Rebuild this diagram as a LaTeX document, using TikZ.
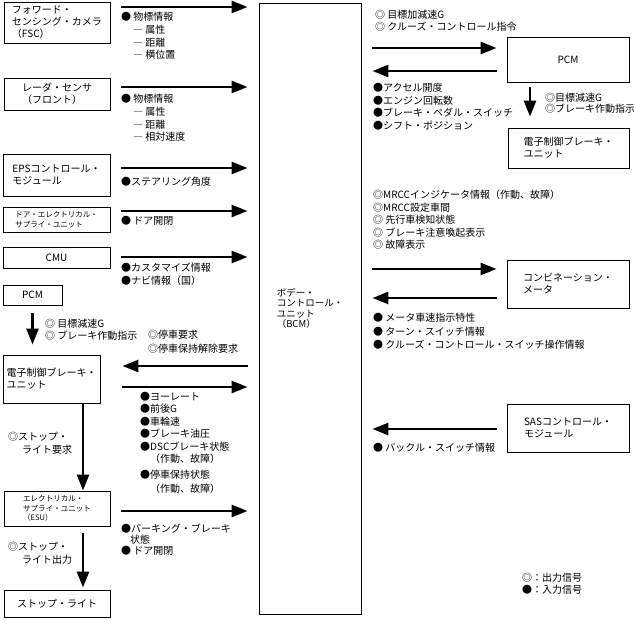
\documentclass[tikz,border=0pt]{standalone}
\usepackage{fontspec}
\setmainfont{Noto Sans CJK JP}
\usetikzlibrary{arrows.meta}
\begin{document}
\begin{tikzpicture}[x=1pt, y=-1pt]

      \tikzset{box/.style={draw, line width=0.9pt, inner sep=0pt, align=left, font=\fontsize{10}{12}\selectfont},
               smallbox/.style={box, font=\fontsize{7.5}{10}\selectfont},
               sig/.style={line width=2.6pt, -{Triangle[length=16pt, width=12pt]}, shorten <=11pt, shorten >=11pt},
               lbl/.style={anchor=north west, inner sep=0pt, align=left, font=\fontsize{10}{12.8}\selectfont}}
      \useasboundingbox (0,0) rectangle (634,620);
%% Units, left column
      	\node[box, minimum width=106pt, minimum height=41pt] (fsc) at (57,22.5) {フォワード・\\センシング・カメラ\\（FSC）};
      	\node[box, minimum width=106pt, minimum height=32pt] (radar) at (57,94) {レーダ・センサ\\（フロント）};
      	\node[box, minimum width=107pt, minimum height=42pt] (eps) at (56.5,175) {EPSコントロール・\\モジュール};
      	\node[smallbox, minimum width=107pt, minimum height=25pt] (door) at (56.5,219.5) {ドア・エレクトリカル・\\サプライ・ユニット};
      	\node[box, minimum width=107pt, minimum height=21pt] (cmu) at (56.5,258) {CMU};
      	\node[box, minimum width=59pt, minimum height=20pt] (pcmL) at (32.5,295) {PCM};
      	\node[box, minimum width=97pt, minimum height=48pt] (ebuL) at (51.5,379) {電子制御ブレーキ・\\ユニット};
      	\node[smallbox, font=\fontsize{7.5}{9.5}\selectfont, minimum width=106pt, minimum height=35pt] (esu) at (57,508.5) {エレクトリカル・\\サプライ・ユニット\\（ESU）};
      	\node[box, minimum width=106pt, minimum height=27pt] (stop) at (57,603.5) {ストップ・ライト};
%% BCM
      	\node[box, font=\fontsize{9.5}{10.5}\selectfont, minimum width=102pt, minimum height=611pt] (bcm) at (310,308.5) {ボデー・\\コントロール・\\ユニット\\（BCM）};
%% Units, right column
      	\node[box, minimum width=122pt, minimum height=45pt] (pcmR) at (568,59.5) {PCM};
      	\node[box, minimum width=121pt, minimum height=40pt] (ebuR) at (568.5,148) {電子制御ブレーキ・\\ユニット};
      	\node[box, minimum width=122pt, minimum height=48pt] (meter) at (568,284) {コンビネーション・\\メータ};
      	\node[box, minimum width=122pt, minimum height=48pt] (sas) at (568,428) {SASコントロール・\\モジュール};
%% Signal rows
		\coordinate (yFSC) at (0,7);
		\coordinate (yRadar) at (0,87);
		\coordinate (yEPS) at (0,168);
		\coordinate (yDoor) at (0,211);
		\coordinate (yCMU) at (0,257);
		\coordinate (yEBUin) at (0,366);
		\coordinate (yEBUout) at (0,387);
		\coordinate (yESU) at (0,511);
		\coordinate (yPCMin) at (0,48);
		\coordinate (yPCMout) at (0,71);
		\coordinate (yMeterin) at (0,269);
		\coordinate (yMeterout) at (0,298);
		\coordinate (ySAS) at (0,429);
		\coordinate (xStop) at (83,0);
		\coordinate (xPCM) at (530,0);
%Arrows
		\draw[sig] (fsc.east |- yFSC) -- (bcm.west |- yFSC);
		\draw[sig] (radar.east |- yRadar) -- (bcm.west |- yRadar);
		\draw[sig] (eps.east |- yEPS) -- (bcm.west |- yEPS);
		\draw[sig] (door.east |- yDoor) -- (bcm.west |- yDoor);
		\draw[sig] (cmu.east |- yCMU) -- (bcm.west |- yCMU);
		\draw[sig, shorten >=22pt] (bcm.west |- yEBUin) -- (ebuL.east |- yEBUin);
		\draw[sig, shorten <=22pt] (ebuL.east |- yEBUout) -- (bcm.west |- yEBUout);
		\draw[sig] (esu.east |- yESU) -- (bcm.west |- yESU);
		\draw[sig, shorten <=8pt, shorten >=10pt] (pcmL.south) -- (pcmL.south |- ebuL.north);
		\draw[sig, shorten <=0pt, shorten >=0pt] (ebuL.south -| xStop) -- (esu.north -| xStop);
		\draw[sig, shorten <=7pt, shorten >=2pt] (esu.south -| xStop) -- (stop.north -| xStop);
		\draw[sig, shorten >=10pt] (bcm.east |- yPCMin) -- (pcmR.west |- yPCMin);
		\draw[sig, shorten <=10pt] (pcmR.west |- yPCMout) -- (bcm.east |- yPCMout);
		\draw[sig, shorten <=5pt, shorten >=11pt] (pcmR.south -| xPCM) -- (ebuR.north -| xPCM);
		\draw[sig, shorten >=10pt] (bcm.east |- yMeterin) -- (meter.west |- yMeterin);
		\draw[sig, shorten <=10pt] (meter.west |- yMeterout) -- (bcm.east |- yMeterout);
		\draw[sig, shorten <=10pt] (sas.west |- ySAS) -- (bcm.east |- ySAS);
%Signals, left
		\node[lbl] (sFSC) at (121,12) {● 物標情報\\\hspace*{12pt}― 属性\\\hspace*{12pt}― 距離\\\hspace*{12pt}― 横位置};
		\node[lbl] (sRadar) at (121,94) {● 物標情報\\\hspace*{12pt}― 属性\\\hspace*{12pt}― 距離\\\hspace*{12pt}― 相対速度};
		\node[lbl] (sEPS) at (121,177) {●ステアリング角度};
		\node[lbl] (sDoor) at (121,216) {● ドア開閉};
		\node[lbl] (sCMU) at (121,263) {●カスタマイズ情報\\●ナビ情報（国）};
		\node[lbl, font=\fontsize{10}{11.5}\selectfont] (sPCM) at (45,319) {◎ 目標減速G\\◎ ブレーキ作動指示};
		\node[lbl, font=\fontsize{10}{14}\selectfont] (sStopReq) at (148,330) {◎停車要求\\◎停車保持解除要求};
		\node[lbl, font=\fontsize{10}{12.4}\selectfont] (sEBU) at (140,392) {●ヨーレート\\●前後G\\●車輪速\\●ブレーキ油圧\\●DSCブレーキ状態\\\hspace*{10pt}（作動、故障）};
		\node[lbl, font=\fontsize{10}{13.5}\selectfont] (sHold) at (140,470) {●停車保持状態\\\hspace*{10pt}（作動、故障）};
		\node[lbl, font=\fontsize{10}{11}\selectfont] (sESU) at (121,524) {●パーキング・ブレーキ\\\hspace*{9pt}状態\\● ドア開閉};
		\node[lbl] (sLightReq) at (8,432) {◎ストップ・\\\hspace*{14pt}ライト要求};
		\node[lbl] (sLightOut) at (8,542) {◎ストップ・\\\hspace*{14pt}ライト出力};
%Signals, right
		\node[lbl, font=\fontsize{10}{12}\selectfont] (sPCMin) at (375,10) {◎ 目標加減速G\\◎ クルーズ・コントロール指令};
		\node[lbl, font=\fontsize{10}{12.7}\selectfont] (sPCMout) at (373,83) {●アクセル開度\\●エンジン回転数\\●ブレーキ・ペダル・スイッチ\\●シフト・ポジション};
		\node[lbl, font=\fontsize{10}{11}\selectfont] (sBrake) at (545,93) {◎目標減速G\\◎ブレーキ作動指示};
		\node[lbl, font=\fontsize{10}{12.5}\selectfont] (sMeterin) at (373,190) {◎MRCCインジケータ情報（作動、故障）\\◎MRCC設定車間\\◎ 先行車検知状態\\◎ ブレーキ注意喚起表示\\◎ 故障表示};
		\node[lbl, font=\fontsize{10}{13.5}\selectfont] (sMeterout) at (373,313) {● メータ車速指示特性\\● ターン・スイッチ情報\\● クルーズ・コントロール・スイッチ操作情報};
		\node[lbl] (sSAS) at (373,443) {● バックル・スイッチ情報};
%Legend
		\node[lbl, font=\fontsize{10}{12}\selectfont] (legend) at (522,573) {◎：出力信号\\●：入力信号};

	\end{tikzpicture}
\end{document}
